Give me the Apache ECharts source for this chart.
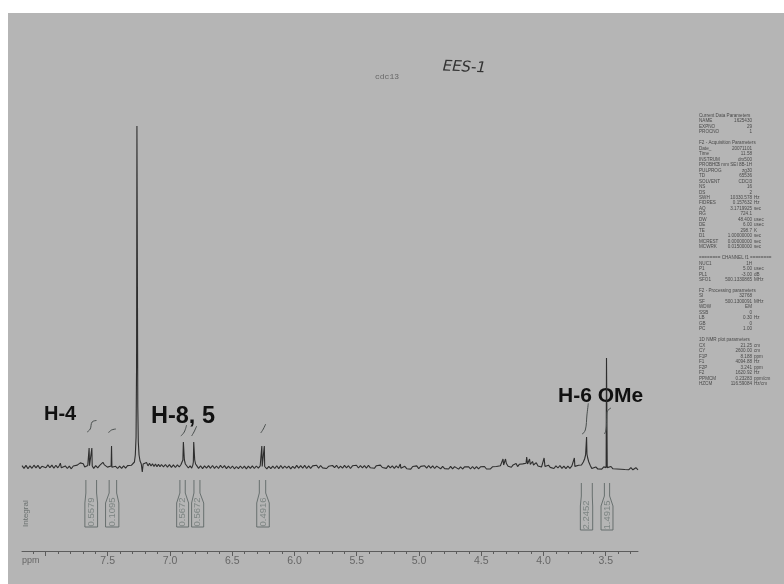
<!DOCTYPE html>
<html>
<head>
<meta charset="utf-8">
<style>
html,body{margin:0;padding:0;background:#fff}
#main{width:784px;height:584px;filter:blur(0.35px)}
</style>
<script src="https://cdn.jsdelivr.net/npm/echarts@6/dist/echarts.min.js"></script>
</head>
<body>
<div id="main"></div>
<script>
// ppm ticks
const majorTicks = [8, 7.5, 7, 6.5, 6, 5.5, 5, 4.5, 4, 3.5];
const minorTicks = [8.1, 7.9, 7.8, 7.7, 7.6, 7.4, 7.3, 7.2, 7.1, 6.9, 6.8, 6.7, 6.6, 6.4, 6.3, 6.2, 6.1, 5.9, 5.8, 5.7, 5.6, 5.4, 5.3, 5.2, 5.1, 4.9, 4.8, 4.7, 4.6, 4.4, 4.3, 4.2, 4.1, 3.9, 3.8, 3.7, 3.6, 3.4, 3.3];

// spectrum trace, [ppm, intensity]
const traceLowField = [[8.188,1.3],[8.172,-1.4],[8.156,1.6],[8.14,-1.7],[8.124,1.2],[8.108,-1.3],[8.092,1.8],[8.076,-0.9],[8.06,1.7],[8.044,-1.6],[8.028,0.7],[8.012,1.9],[7.996,-0.8],[7.98,2.1],[7.964,-0.7],[7.948,1.9],[7.932,-1.2],[7.916,1.7],[7.9,-0.8],[7.888,1.5],[7.88,3.9],[7.872,-0.8],[7.856,-1.7],[7.84,1.1],[7.824,-1.5],[7.808,0.9],[7.792,-1.8],[7.776,1],[7.76,-0.9],[7.744,1.9],[7.732,1.4],[7.72,4.1],[7.708,2.1],[7.696,3.3],[7.684,0.1],[7.672,-0.8],[7.66,1.5],[7.652,0.1],[7.649,19],[7.646,1.2],[7.637,0],[7.63,1],[7.627,19],[7.624,1],[7.612,-1.4],[7.596,1.4],[7.58,-0.8],[7.564,1.7],[7.55,0.9],[7.538,4.7],[7.526,2.1],[7.514,3.4],[7.502,-0.1],[7.488,-1.2],[7.472,1],[7.469,21],[7.466,-0.3],[7.452,-1.7],[7.436,0.7],[7.42,-1.5],[7.404,0.9],[7.388,-1.4],[7.372,1.1],[7.356,-1.1],[7.34,1.4],[7.324,-0.3],[7.31,1.7]];
const traceSolvent = [[7.295,2],[7.285,5],[7.278,12],[7.272,30],[7.268,100],[7.265,341],[7.262,341],[7.258,60],[7.254,25],[7.248,12],[7.24,6],[7.23,3],[7.222,-5],[7.215,3],[7.2,2],[7.188,4.5],[7.176,1.1],[7.164,3.7],[7.152,1],[7.14,3.3],[7.128,0.4],[7.116,3.1],[7.104,0.3],[7.092,2.7],[7.08,0.2],[7.068,2.5]];
const traceAromatic = [[7.052,0.1],[7.036,2.5],[7.02,-0.1],[7.004,2.4],[6.988,-0.3],[6.972,2.1],[6.956,-0.5],[6.94,2.2],[6.925,0],[6.912,2.3],[6.902,3.2],[6.896,7],[6.892,25],[6.888,25],[6.884,7],[6.876,3],[6.865,1.3],[6.852,-1],[6.838,1.1],[6.825,-1.1],[6.816,1.9],[6.812,5],[6.809,25],[6.805,25],[6.801,7],[6.794,3],[6.782,0.9],[6.77,-1.4],[6.754,1.2],[6.738,-1.6],[6.722,1.1],[6.706,-1.2],[6.69,1.4],[6.674,-1.3],[6.658,1.5],[6.642,-1.4],[6.626,1],[6.61,-1.5],[6.594,1.6],[6.578,-1],[6.562,1.4],[6.546,-1.6],[6.53,0.9],[6.514,-1.5],[6.498,1],[6.482,-1.8],[6.466,0.5],[6.45,-1.7],[6.434,1],[6.418,-1.5],[6.402,0.9],[6.386,-1.8],[6.37,0.8],[6.354,-1.4],[6.338,1.1],[6.322,-1.5],[6.306,1],[6.29,-1.2],[6.275,1.2],[6.265,0.5],[6.262,21],[6.259,0.5],[6.25,1],[6.245,0.5],[6.242,21],[6.239,0.5],[6.222,-1.9],[6.206,0.7],[6.19,-1.7],[6.174,0.8]];
const traceMidField = [[6.158,-1.5],[6.142,1.3],[6.126,-1.6],[6.11,1.5],[6.094,-1.4],[6.078,1],[6.062,-1.2],[6.046,0.9],[6.03,-1.9],[6.014,0.7],[5.998,-1.4],[5.982,1.6],[5.966,-1.1],[5.95,1.3],[5.934,-1.2],[5.918,1.6],[5.902,-1.5],[5.886,1.2],[5.87,-1.3],[5.854,1.1],[5.838,-0.9],[5.822,1.7],[5.806,-1.2],[5.79,1.5],[5.774,-0.9],[5.758,1.1],[5.742,-1.5],[5.726,0.7],[5.71,-1],[5.694,1.5],[5.678,-0.6],[5.662,1.7],[5.646,-1.3],[5.63,0.9],[5.614,-1.2],[5.598,1.6],[5.582,-0.8],[5.566,1.3],[5.55,-1.5],[5.534,1.2],[5.518,-0.7],[5.502,1.8],[5.486,-1],[5.47,1.4],[5.454,-0.9],[5.438,1.3],[5.422,-1.2],[5.406,1.7],[5.39,-0.8],[5.374,1.2],[5.358,-1.3],[5.342,1.3],[5.326,-0.7],[5.31,1.9],[5.294,-0.5],[5.278,1.3],[5.262,-1.4],[5.246,1.4],[5.23,-0.9],[5.214,1.2],[5.198,-1.3],[5.182,1.2],[5.166,-1],[5.155,0.7],[5.15,2.9],[5.145,-1.2],[5.13,-1.9],[5.114,0.7],[5.098,-1.7],[5.082,0.3],[5.066,-2.1],[5.05,0.5],[5.034,-1.5],[5.018,1.1],[5.002,-1.6],[4.986,0.6],[4.97,-1.4],[4.954,1.2],[4.938,-1.2],[4.922,1.5],[4.906,-1.1],[4.89,1.2],[4.874,-1.5],[4.858,0.9],[4.842,-1.1],[4.826,-1.8],[4.81,0.6],[4.794,-1.6],[4.778,0.3],[4.762,-2],[4.746,0.6],[4.73,-1.9],[4.714,0.4],[4.698,-1.4],[4.682,-2.1],[4.666,0.2],[4.65,-2],[4.634,0.1],[4.618,-1.8],[4.602,0.3],[4.586,-2],[4.57,0.5],[4.554,-1.8],[4.538,0.3],[4.522,-1.9],[4.506,0.2],[4.49,-1.8],[4.474,0.5],[4.458,-2],[4.442,0],[4.426,-1.9],[4.41,0.2],[4.394,-1.8],[4.378,0.5],[4.362,-1.4],[4.346,1.2]];
const traceHighField = [[4.33,1.5],[4.325,8],[4.32,2],[4.31,3],[4.305,8],[4.298,3.5],[4.284,0.7],[4.27,2.5],[4.258,-0.3],[4.244,2.1],[4.23,0.5],[4.22,3.5],[4.208,0.4],[4.194,2.7],[4.18,0.7],[4.166,3.1],[4.152,1.5],[4.14,3.7],[4.135,10],[4.128,3],[4.118,2.6],[4.112,8],[4.106,2.6],[4.095,1],[4.088,5.5],[4.08,2],[4.07,3.8],[4.058,4.3],[4.044,1],[4.03,2.5],[4.016,-0.1],[4.002,1.4],[3.995,9],[3.988,0.5],[3.974,-1.2],[3.96,1.8],[3.946,-0.4],[3.932,1.5],[3.916,-1.5],[3.9,1.2],[3.884,-1],[3.868,1.5],[3.852,-1.4],[3.836,0.9],[3.82,-1.6],[3.804,0.8],[3.788,-1.3],[3.772,1.1],[3.758,0.1],[3.752,9],[3.748,0.6],[3.734,-0.8],[3.718,1.7],[3.705,0.8],[3.695,2],[3.68,5],[3.67,8],[3.662,12],[3.657,13],[3.654,30],[3.651,13],[3.645,9],[3.636,5],[3.625,1.8],[3.612,-1.5],[3.596,-2.3],[3.58,0.1],[3.564,-2],[3.548,-0.1],[3.532,-2.1],[3.516,0.1],[3.504,-1.7],[3.497,-0.6],[3.494,109],[3.491,109],[3.488,-0.6],[3.474,-1.9],[3.458,0.5],[3.442,-1.8],[3.426,-0.1],[3.41,-2],[3.394,-0.1],[3.378,-2.2],[3.362,-0.4],[3.346,-2.5],[3.33,-0.5],[3.314,-2.7],[3.298,-0.6],[3.282,-2.8],[3.27,-3.3],[3.258,-0.7],[3.241,-2.9]];

// integral curves above the peaks, [ppm, height]
const integralCurves = [
  [[7.665,35],[7.64,38],[7.625,45],[7.59,46.5]],
  [[7.495,34.5],[7.488,35],[7.469,37],[7.434,38]],
  [[6.912,31],[6.885,35],[6.866,42]],
  [[6.826,31],[6.807,35],[6.785,41]],
  [[6.271,34],[6.25,38],[6.231,43]],
  [[3.69,32.7],[3.664,37],[3.651,52],[3.64,63.7]],
  [[3.511,33],[3.498,37],[3.493,47],[3.49,55],[3.458,59]]
];

// integral values and their ranges (ppm): top left, bottom left, top right, bottom right, label centre
const integralValues = ['0.5579','0.1095','0.5672','0.5672','0.4916','2.2452','1.4915'];
const integralTopLeft = [7.675,7.488,6.92,6.807,6.282,3.696,3.511];
const integralBottomLeft = [7.683,7.517,6.946,6.826,6.303,3.704,3.538];
const integralTopRight = [7.589,7.428,6.877,6.759,6.231,3.608,3.469];
const integralBottomRight = [7.581,7.41,6.85,6.729,6.202,3.605,3.442];
const integralCentre = [7.63,7.464,6.901,6.777,6.252,3.653,3.49];
const integralDrop = [0,0,0,0,0,3,3];

// acquisition parameter block
const paramNames = ['Current Data Parameters','NAME','EXPNO','PROCNO','','F2 - Acquisition Parameters','Date_','Time','INSTRUM','PROBHD','PULPROG','TD','SOLVENT','NS','DS','SWH','FIDRES','AQ','RG','DW','DE','TE','D1','MCREST','MCWRK','','======== CHANNEL f1 ========','NUC1','P1','PL1','SFO1','','F2 - Processing parameters','SI','SF','WDW','SSB','LB','GB','PC','','1D NMR plot parameters','CX','CY','F1P','F1','F2P','F2','PPMCM','HZCM'];
const paramValues = ['','1625430','29','1','','','20071101','11.58','drx500','5 mm SEI 8B-1H','zg30','65536','CDCl3','16','2','10330.578','0.157632','3.1719925','724.1','48.400','6.00','298.7','1.00000000','0.00000000','0.01500000','','','1H','5.00','-3.00','500.1330865','','','32768','500.1300091','EM','0','0.30','0','1.00','','','21.25','2600.00','8.188','4094.88','3.241','1620.92','0.23283','116.59084'];
const paramUnits = ['','','','','','','','','','','','','','','','Hz','Hz','sec','','usec','usec','K','sec','sec','sec','','','','usec','dB','MHz','','','','MHz','','','Hz','','','','','cm','cm','ppm','Hz','ppm','Hz','ppm/cm','Hz/cm'];

const spectrum = [].concat(traceLowField, traceSolvent, traceAromatic, traceMidField, traceHighField);
const inkGrey = '#5f6866';
const series = [];

series.push({type:'line', data:spectrum, symbol:'none', sampling:false, silent:true,
  lineStyle:{color:'#2e2e2e', width:1.1}});

integralCurves.forEach(c => series.push({type:'line', data:c, symbol:'none', smooth:0.4, silent:true,
  lineStyle:{color:'#4a4f4e', width:1}}));

integralValues.forEach((v,i) => {
  const d = integralDrop[i];
  const path = [
    [integralTopLeft[i], -13-d], [integralTopLeft[i], -26-d],
    [integralBottomLeft[i], -36-d], [integralBottomLeft[i], -60-d],
    [integralBottomRight[i], -60-d], [integralBottomRight[i], -36-d],
    [integralTopRight[i], -26-d], [integralTopRight[i], -13-d]
  ];
  series.push({type:'line', data:path, symbol:'none', silent:true,
    lineStyle:{color:inkGrey, width:0.9}});
});

series.push({type:'scatter', symbolSize:0, silent:true,
  data:integralValues.map((v,i)=>({value:[integralCentre[i], -45-integralDrop[i]], name:v})),
  label:{show:true, position:'inside', rotate:90, formatter:p=>p.name,
    fontFamily:'Liberation Sans', fontSize:9.5, color:'#6e7876'}});

const graphic = [
  {type:'rect', z:-10, silent:true, shape:{x:8,y:13,width:776,height:571}, style:{fill:'#b5b5b5'}},
  {type:'text', x:443, y:59, rotation:-0.05, style:{text:'EES-1', font:'italic 15px "DejaVu Sans"', fill:'#333', letterSpacing:4}},
  {type:'text', x:375, y:73, style:{text:'cdc13', font:'8px "Liberation Mono"', fill:'#666'}},
  {type:'text', x:44, y:404, style:{text:'H-4', font:'bold 20px "Liberation Sans"', fill:'#111'}},
  {type:'text', x:151, y:405, style:{text:'H-8, 5', font:'bold 23.5px "Liberation Sans"', fill:'#111'}},
  {type:'text', x:558, y:386, style:{text:'H-6 OMe', font:'bold 21px "Liberation Sans"', fill:'#111'}},
  {type:'text', x:22, y:556, style:{text:'ppm', font:'9px "Liberation Sans"', fill:'#666'}},
  {type:'text', x:22, y:527, rotation:Math.PI/2, style:{text:'Integral', font:'8px "Liberation Sans"', fill:'#6a706f'}}
];
paramNames.forEach((n,i)=>{
  const y = 113.2 + i*5.47;
  if(n) graphic.push({type:'text', x:699, y:y, style:{text:n, font:'4.6px "Liberation Sans"', fill:'#4a4a4a'}});
  if(paramValues[i]) graphic.push({type:'text', x:752, y:y, style:{text:paramValues[i], font:'4.6px "Liberation Sans"', fill:'#4a4a4a', align:'right'}});
  if(paramUnits[i]) graphic.push({type:'text', x:754, y:y, style:{text:paramUnits[i], font:'4.6px "Liberation Sans"', fill:'#4a4a4a'}});
});

const chart = echarts.init(document.getElementById('main'), null, {renderer:'canvas', width:784, height:584});
chart.setOption({
  animation:false,
  backgroundColor:'#ffffff',
  grid:{left:22, right:146, top:100, bottom:33},
  xAxis:[
    {type:'value', inverse:true, min:3.241, max:8.188, position:'bottom',
     splitLine:{show:false},
     axisLine:{onZero:false, lineStyle:{color:'#5c5c5c', width:1}},
     axisTick:{customValues:majorTicks, length:5, lineStyle:{color:'#5c5c5c', width:1}},
     axisLabel:{customValues:majorTicks.slice(1), margin:5, fontFamily:'Liberation Sans', fontSize:10.5, color:'#666', formatter:v=>v.toFixed(1)}},
    {type:'value', inverse:true, min:3.241, max:8.188, position:'bottom',
     splitLine:{show:false}, axisLine:{show:false, onZero:false}, axisLabel:{show:false},
     axisTick:{customValues:minorTicks, length:3, lineStyle:{color:'#5c5c5c', width:1}}}
  ],
  yAxis:{type:'value', min:-84, max:367, show:false, splitLine:{show:false}},
  series:series,
  graphic:graphic
});
</script>
</body>
</html>
